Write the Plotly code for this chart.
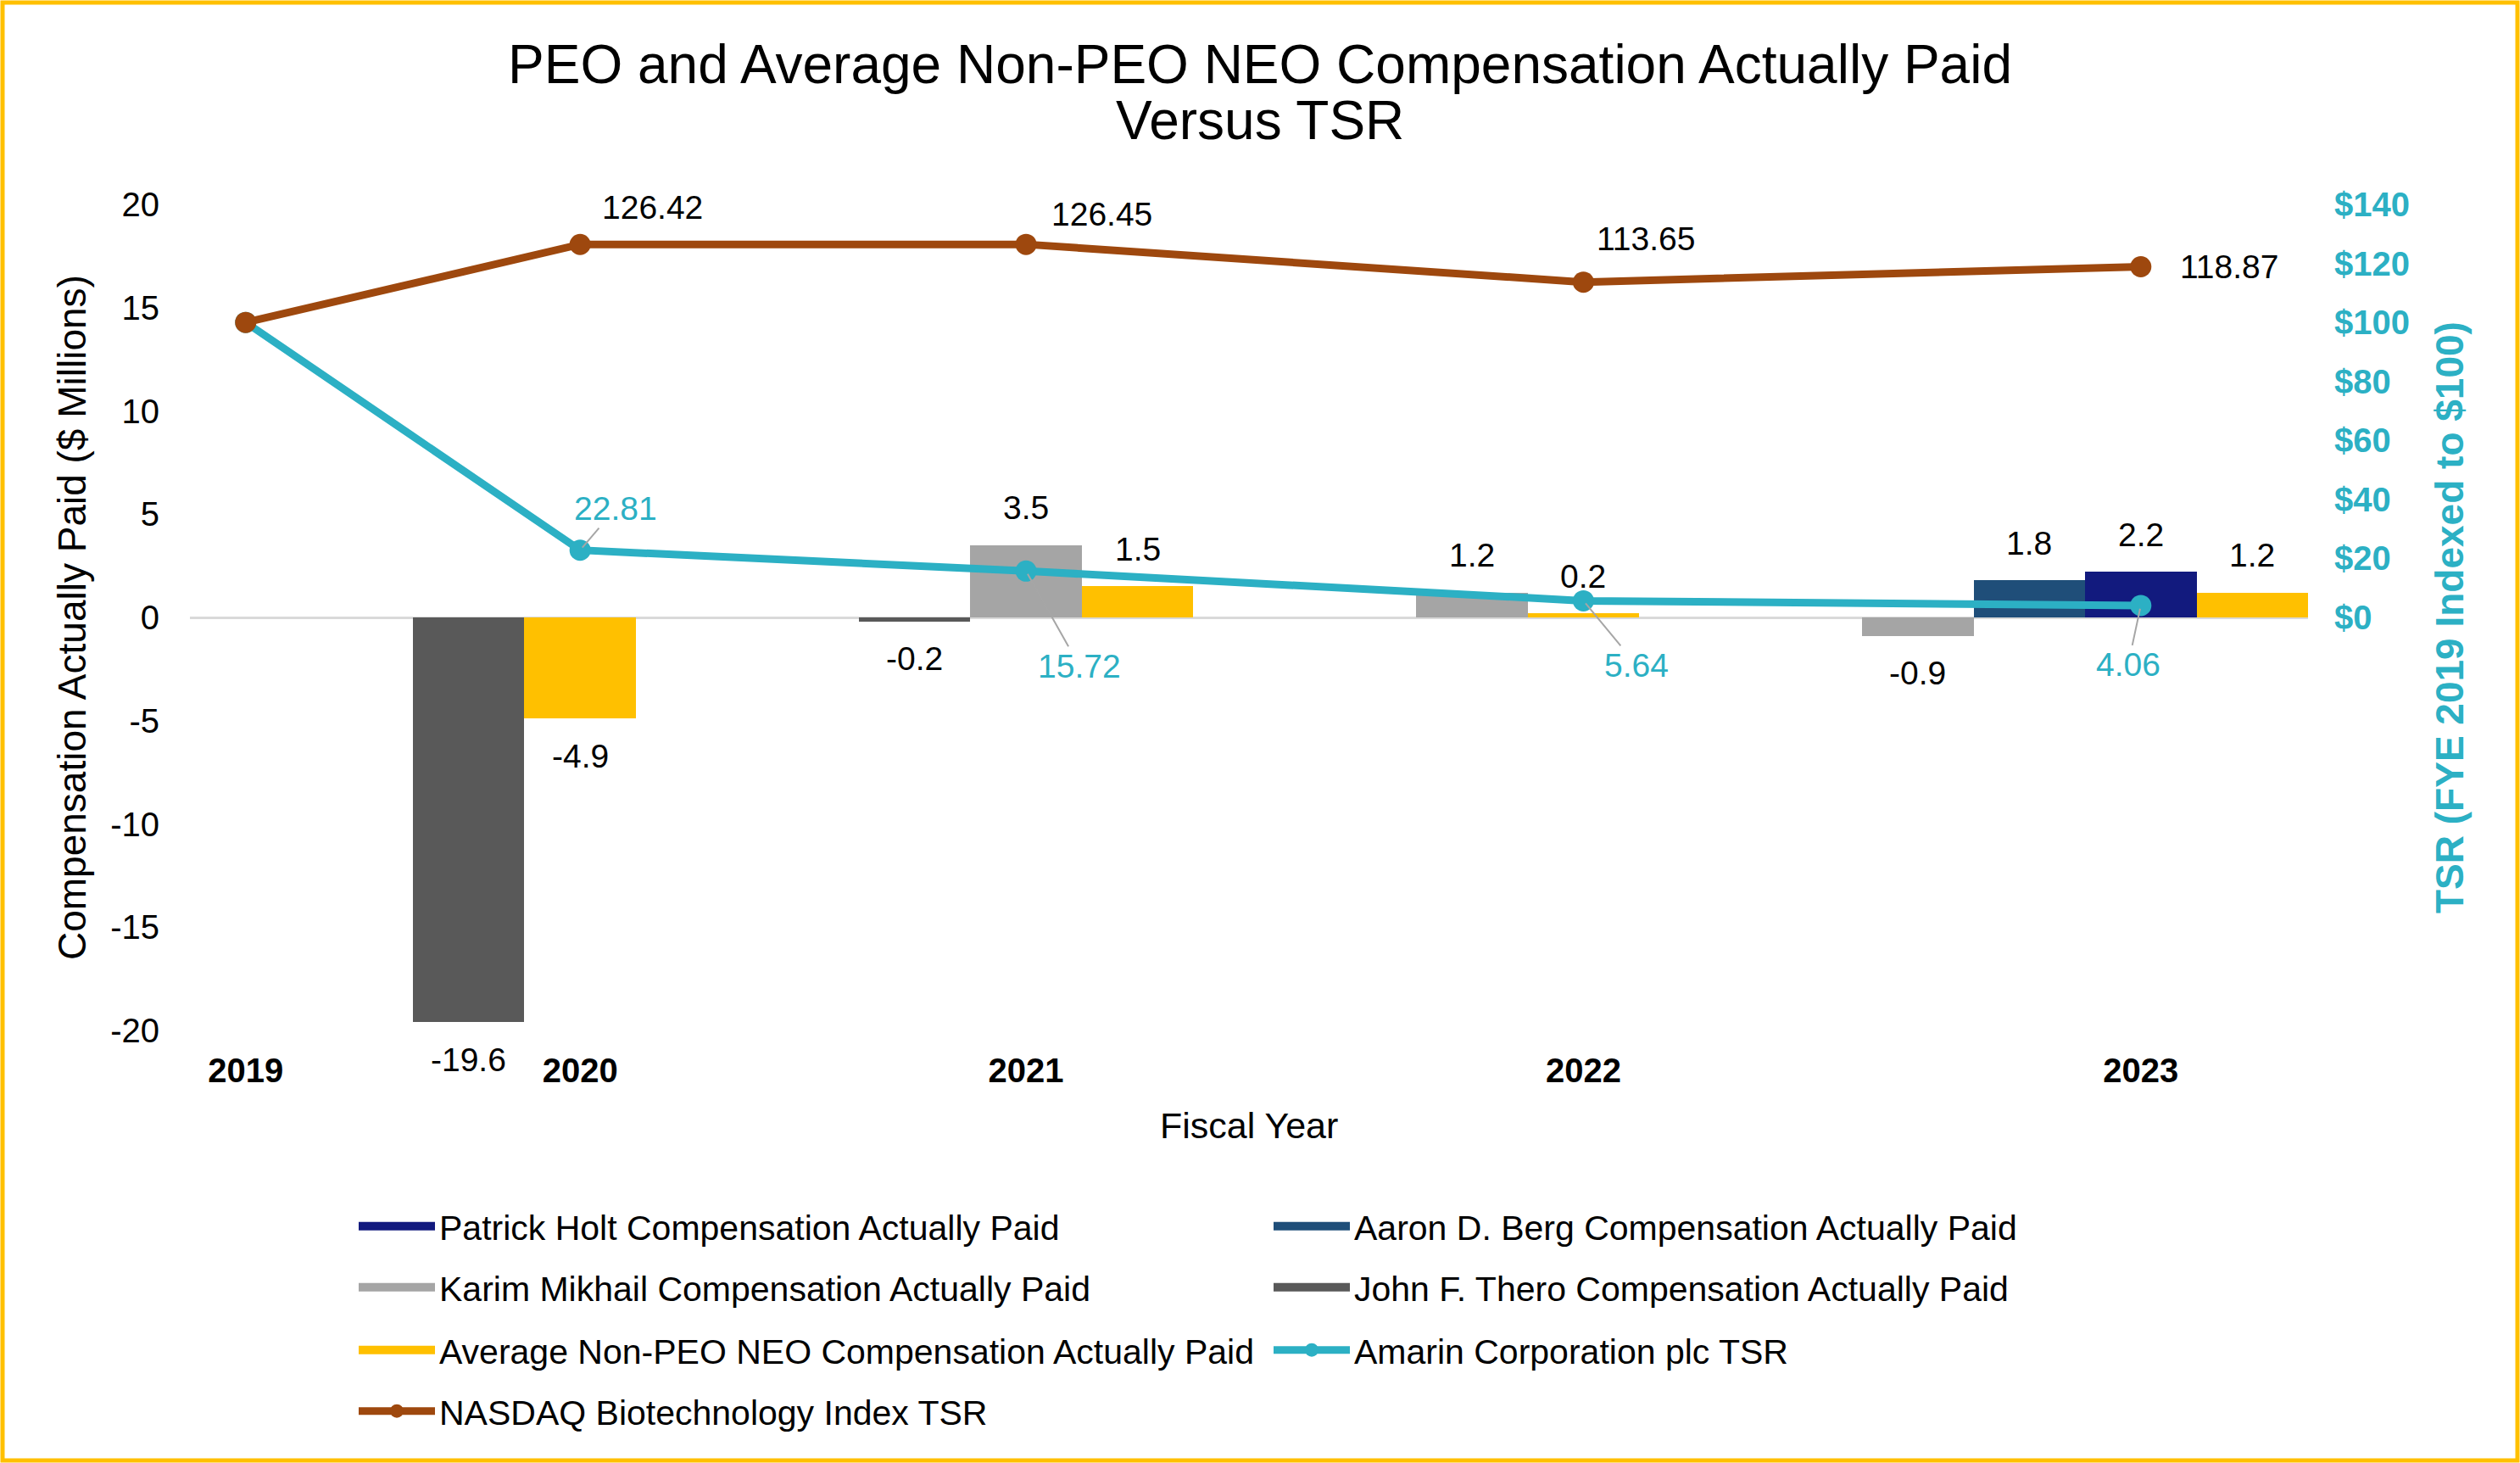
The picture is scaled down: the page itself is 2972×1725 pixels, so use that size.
import plotly.graph_objects as go

# ---------------- data ----------------
# 19 category slots along the x axis (one bar per slot); year labels sit on five of them
slots = ["FY2019", "s01", "2020 Thero", "FY2020", "s04", "s05", "2021 Thero", "FY2021", "2021 Avg",
         "s09", "s10", "2022 Mikhail", "FY2022", "s13", "s14", "2023 Mikhail", "2023 Berg", "FY2023", "2023 Avg"]
tick_slots = ["FY2019", "FY2020", "FY2021", "FY2022", "FY2023"]
tick_labels = ["2019", "2020", "2021", "2022", "2023"]

holt_cats = ["FY2023"]
holt_vals = [2.2]
berg_cats = ["2023 Berg"]
berg_vals = [1.8]
mikhail_cats = ["FY2021", "2022 Mikhail", "2023 Mikhail"]
mikhail_vals = [3.5, 1.2, -0.9]
thero_cats = ["2020 Thero", "2021 Thero"]
thero_vals = [-19.6, -0.2]
avg_cats = ["FY2020", "2021 Avg", "FY2022", "2023 Avg"]
avg_vals = [-4.9, 1.5, 0.2, 1.2]

tsr_cats = ["FY2019", "FY2020", "FY2021", "FY2022", "FY2023"]
amarin_tsr = [100, 22.81, 15.72, 5.64, 4.06]
nasdaq_tsr = [100, 126.42, 126.45, 113.65, 118.87]

left_ticks = [-20, -15, -10, -5, 0, 5, 10, 15, 20]
right_ticks = [0, 20, 40, 60, 80, 100, 120, 140]

# ---------------- style ----------------
W, H = 2972, 1725
ML, MR, MT, MB = 224, 250, 241, 510
PW, PH = W - ML - MR, H - MT - MB
FONT = "Arial, Liberation Sans, sans-serif"
NAVY = "#121A7E"
STEEL = "#1F4E79"
LGRAY = "#A5A5A5"
DGRAY = "#595959"
GOLD = "#FFC000"
TEAL = "#2CB0C4"
BROWN = "#9E480E"

# label offsets (pixels) for line labels
nasdaq_off = [None, (85, -44), (89, -36), (74, -51), (104, 0)]
amarin_off = [None, (42, -49), (63, 112), (63, 76), (-15, 70)]

# legend rows (pixel centre of each row)
legend_rows_y = [1446, 1518, 1592, 1664]
LEG_X = 418


def px_to_paper_y(py):
    return (MT + PH - py) / PH


def slot_index(c):
    return slots.index(c)


fig = go.Figure()

bar_series = [
    ("Patrick Holt Compensation Actually Paid", holt_cats, holt_vals, NAVY, "legend"),
    ("Aaron D. Berg Compensation Actually Paid", berg_cats, berg_vals, STEEL, "legend"),
    ("Karim Mikhail Compensation Actually Paid", mikhail_cats, mikhail_vals, LGRAY, "legend2"),
    ("John F. Thero Compensation Actually Paid", thero_cats, thero_vals, DGRAY, "legend2"),
    ("Average Non-PEO NEO Compensation Actually Paid", avg_cats, avg_vals, GOLD, "legend3"),
]
annotations = []
for name, cats, vals, col, leg in bar_series:
    fig.add_trace(go.Bar(x=cats, y=vals, name=name, yaxis="y", showlegend=False, legendgroup=name,
                         marker=dict(color=col, line=dict(width=0))))
    # legend swatch (wide band like the reference)
    fig.add_trace(go.Scatter(x=[None], y=[None], name=name, mode="lines", legend=leg, legendgroup=name,
                             line=dict(color=col, width=10), hoverinfo="skip"))
    for c, v in zip(cats, vals):
        annotations.append(dict(x=slot_index(c), y=v, xref="x", yref="y", text=f"{v:.1f}", showarrow=False,
                                yshift=44 if v >= 0 else -44,
                                font=dict(size=39, color="black", family=FONT)))

fig.add_trace(go.Scatter(x=tsr_cats, y=amarin_tsr, name="Amarin Corporation plc TSR", yaxis="y2",
                         mode="lines+markers", line=dict(color=TEAL, width=9), legend="legend3",
                         marker=dict(color=TEAL, size=25)))
fig.add_trace(go.Scatter(x=tsr_cats, y=nasdaq_tsr, name="NASDAQ Biotechnology Index TSR", yaxis="y2",
                         mode="lines+markers", line=dict(color=BROWN, width=9), legend="legend4",
                         marker=dict(color=BROWN, size=25)))

for c, v, off in zip(tsr_cats, nasdaq_tsr, nasdaq_off):
    if off is None:
        continue
    annotations.append(dict(x=slot_index(c), y=v, xref="x", yref="y2", text=f"{v:.2f}", showarrow=False,
                            xshift=off[0], yshift=-off[1],
                            font=dict(size=39, color="black", family=FONT)))
for c, v, off in zip(tsr_cats, amarin_tsr, amarin_off):
    if off is None:
        continue
    annotations.append(dict(x=slot_index(c), y=v, xref="x", yref="y2", text=f"{v:.2f}", showarrow=True,
                            ax=off[0], ay=off[1], arrowhead=0, arrowwidth=2, arrowcolor="#A6A6A6",
                            standoff=4, font=dict(size=39, color=TEAL, family=FONT)))

# axis titles and second title line
annotations.append(dict(xref="paper", yref="paper", x=(85 - ML) / PW, y=0.5, textangle=-90,
                        text="Compensation Actually Paid ($ Millions)", showarrow=False,
                        xanchor="center", yanchor="middle", font=dict(size=46, color="black", family=FONT)))
annotations.append(dict(xref="paper", yref="paper", x=(2889 - ML) / PW, y=0.5, textangle=-90,
                        text="<b>TSR (FYE 2019 Indexed to $100)</b>", showarrow=False,
                        xanchor="center", yanchor="middle", font=dict(size=46, color=TEAL, family=FONT)))
annotations.append(dict(xref="paper", yref="paper", x=0.5, y=px_to_paper_y(1327),
                        text="Fiscal Year", showarrow=False, xanchor="center", yanchor="middle",
                        font=dict(size=43, color="black", family=FONT)))
annotations.append(dict(xref="paper", yref="paper", x=(1486 - ML) / PW, y=px_to_paper_y(142),
                        text="Versus TSR", showarrow=False, xanchor="center", yanchor="middle",
                        font=dict(size=64, color="black", family=FONT)))

border = dict(type="rect", xref="paper", yref="paper",
              x0=(3 - ML) / PW, x1=(W - 3 - ML) / PW,
              y0=px_to_paper_y(3), y1=px_to_paper_y(H - 3),
              line=dict(color=GOLD, width=5), fillcolor="rgba(0,0,0,0)", layer="below")

legend_common = dict(orientation="h", xanchor="left", yanchor="middle",
                     font=dict(size=41, color="black", family=FONT), entrywidth=974, entrywidthmode="pixels",
                     itemwidth=90, traceorder="normal", bgcolor="rgba(0,0,0,0)",
                     x=(LEG_X - ML) / PW)

fig.update_layout(
    width=W, height=H,
    margin=dict(l=ML, r=MR, t=MT, b=MB, autoexpand=False),
    paper_bgcolor="white", plot_bgcolor="white",
    font=dict(family=FONT, color="black"),
    title=dict(text="PEO and Average Non-PEO NEO Compensation Actually Paid",
               x=0.5, xanchor="center", y=1 - 76 / H, yanchor="middle",
               font=dict(size=64, color="black", family=FONT)),
    barmode="overlay", bargap=0,
    xaxis=dict(type="category", categoryorder="array", categoryarray=slots,
               range=[-0.5, len(slots) - 0.5],
               tickmode="array", tickvals=tick_slots, ticktext=tick_labels,
               tickfont=dict(size=40, color="black", family=FONT, weight="bold"),
               showgrid=False, showline=False, zeroline=False, ticks="", ticklabelstandoff=20),
    yaxis=dict(range=[-20, 20], tickmode="array", tickvals=left_ticks, ticktext=[str(t) for t in left_ticks],
               showgrid=False, showline=False,
               zeroline=True, zerolinecolor="#D9D9D9", zerolinewidth=3, ticks="",
               tickfont=dict(size=40, color="black", family=FONT), ticklabelstandoff=35),
    yaxis2=dict(overlaying="y", side="right", range=[-140, 140], tickmode="array",
                tickvals=right_ticks, ticktext=[f"${t}" for t in right_ticks],
                showgrid=False, showline=False, zeroline=False, ticks="",
                tickfont=dict(size=40, color=TEAL, family=FONT, weight="bold"), ticklabelstandoff=30),
    legend=dict(legend_common, y=px_to_paper_y(legend_rows_y[0])),
    legend2=dict(legend_common, y=px_to_paper_y(legend_rows_y[1])),
    legend3=dict(legend_common, y=px_to_paper_y(legend_rows_y[2])),
    legend4=dict(legend_common, y=px_to_paper_y(legend_rows_y[3])),
    annotations=annotations,
    shapes=[border],
    showlegend=True,
)

fig.write_html("out.html", config={"displayModeBar": False},
               post_script="document.body.style.margin='0px';document.body.style.overflow='hidden';")
